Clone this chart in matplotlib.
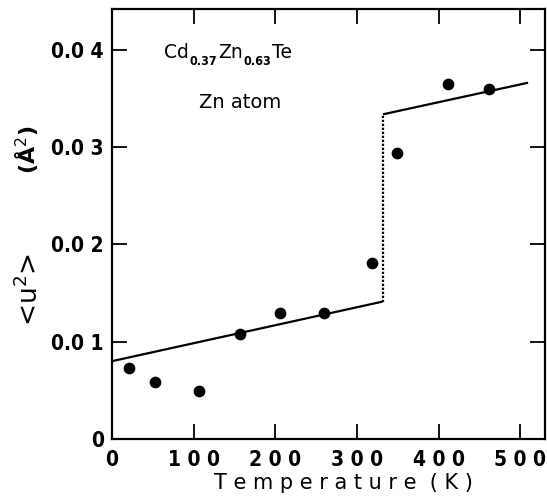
import numpy as np
import matplotlib
matplotlib.use("Agg")
import matplotlib.pyplot as plt

# Measured points (Zn atom)
temp_k = [21, 53, 106, 157, 206, 259, 318, 349, 411, 461]
u2 = [0.0073, 0.0059, 0.0049, 0.0108, 0.0130, 0.0130, 0.0181, 0.0294, 0.0365, 0.0360]

# Fitted lines below / above the transition
low_t = [0, 330]
low_u2 = [0.0080, 0.0141]
high_t = [333, 508]
high_u2 = [0.0334, 0.0366]
jump_t = [332, 332]
jump_u2 = [0.0141, 0.0334]

xticks = [0, 100, 200, 300, 400, 500]
xtick_labels = ["0", "1 0 0", "2 0 0", "3 0 0", "4 0 0", "5 0 0"]
yticks = [0, 0.01, 0.02, 0.03, 0.04]
ytick_labels = ["0", "0.0 1", "0.0 2", "0.0 3", "0.0 4"]

# composition label pieces: (text, is_subscript)
formula = [("Cd", False), ("0.37", True), ("Zn", False), ("0.63", True), ("Te", False)]


def main():
    fig = plt.figure(figsize=(5.47, 4.98), dpi=100)
    ax = fig.add_axes([0.2048, 0.1185, 0.7915, 0.8634])

    ax.plot(low_t, low_u2, color="black", lw=1.6)
    ax.plot(high_t, high_u2, color="black", lw=1.6)
    ax.plot(jump_t, jump_u2, color="black", lw=1.6, ls=(0, (1.0, 0.8)))
    ax.scatter(temp_k, u2, s=55, color="black", zorder=3)

    ax.set_xlim(0, 530)
    ax.set_ylim(0, 0.0442)

    tick_font = dict(fontsize=15, fontweight="bold",
                     family="DejaVu Sans", fontstretch="condensed")
    ax.set_xticks(xticks)
    ax.set_xticklabels(xtick_labels, **tick_font)
    ax.set_yticks(yticks)
    ax.set_yticklabels(ytick_labels, **tick_font)
    ax.tick_params(direction="in", length=11, width=1.3, top=True, right=True)
    ax.tick_params(axis="x", pad=8)
    ax.tick_params(axis="y", pad=6)
    for sp in ax.spines.values():
        sp.set_linewidth(1.6)

    ax.set_xlabel("T e m p e r a t u r e  ( K )", fontsize=15)
    ax.xaxis.set_label_coords(0.535, -0.08)

    fig.text(30 / 547, 1 - 290 / 498, "<u$^2$>",
             rotation=90, ha="center", va="center", fontsize=19)
    fig.text(27 / 547, 1 - 150 / 498, "(Å$^2$)", rotation=90,
             ha="center", va="center", fontsize=16, fontweight="bold")

    # chemical formula built piece by piece so subscripts stay small
    base_y = 0.0392
    prev = None
    for piece, sub in formula:
        kw = dict(fontsize=13.5, va="baseline")
        y = base_y
        if sub:
            kw = dict(fontsize=9, fontweight="bold", fontstretch="condensed",
                      va="baseline")
            y = base_y - 0.0008
        if prev is None:
            prev = ax.text(64, y, piece, **kw)
        else:
            prev = ax.annotate(piece, xy=(1, y), xycoords=(prev, "data"),
                               xytext=(0.5, 0), textcoords="offset points", **kw)

    ax.text(106, 0.0346, "Zn atom", fontsize=14, va="center")

    fig.savefig("out.png", dpi=100)


if __name__ == "__main__":
    main()
